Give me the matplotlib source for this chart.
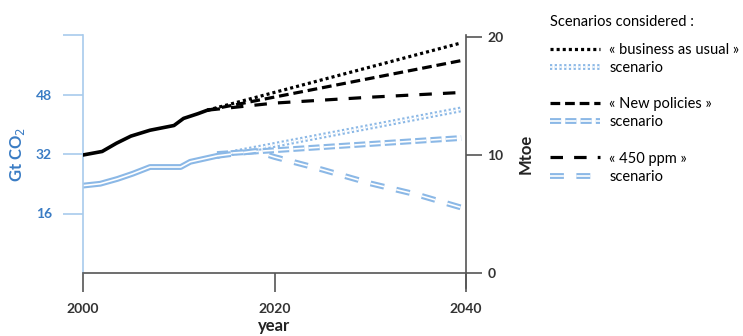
import numpy as np
import matplotlib
matplotlib.use('Agg')
import matplotlib.pyplot as plt
import matplotlib.patheffects as pe

plt.rcParams['font.family'] = ['Lato', 'DejaVu Sans']
plt.rcParams['lines.scale_dashes'] = False

# --- data ---
# historical energy (black, right axis, Mtoe)
hist_black_years = [2000, 2002, 2003.5, 2005, 2007, 2009.5, 2010.5, 2012, 2013]
hist_black = [10.0, 10.3, 11.0, 11.6, 12.1, 12.5, 13.1, 13.5, 13.8]
# historical CO2 (blue, left axis, Gt CO2)
hist_blue_years = [2000, 2001.8, 2003.6, 2005.2, 2007, 2010.2, 2011.2, 2012.6, 2014]
hist_blue = [23.5, 24.0, 25.3, 26.7, 28.5, 28.5, 29.9, 30.7, 31.5]

# projections, black (Mtoe)
bau_black_years = [2013, 2039.5]
bau_black = [13.8, 19.5]
np_black_years = [2013, 2039.5]
np_black = [13.8, 18.0]
p450_black_years = [2013, 2020, 2030, 2039.5]
p450_black = [13.8, 14.4, 14.9, 15.3]

# projections, blue (Gt CO2)
bau_blue_years = [2014, 2039.5]
bau_blue = [31.5, 44.0]
np_blue_years = [2014, 2039.5]
np_blue = [32.0, 36.3]
p450_blue_years = [2014, 2018, 2020, 2025, 2030, 2035, 2039.5]
p450_blue = [31.5, 32.8, 31.2, 27.8, 24.1, 21.0, 17.6]

BLUE_TXT = '#3a7cc4'
BLUE_LN = '#8bb8e6'
BLUE_AX = '#a8cbec'
GREY = '#555555'

fig = plt.figure(figsize=(7.43, 3.36), dpi=100)
ax = fig.add_axes([83/743, 1 - 273/336, (466 - 83)/743, (273 - 35)/336])
ax2 = ax.twinx()

def double(w=4.2):
    return [pe.Stroke(linewidth=w, foreground=BLUE_LN), pe.Normal()]

# blue (CO2) lines, drawn as double lines
ax.plot(hist_blue_years, hist_blue, color='white', lw=1.2, path_effects=double())
l_bau_b, = ax.plot(bau_blue_years, bau_blue, color='white', lw=1.2, dashes=(1.6, 1.8),
                   path_effects=double(), label='scenario')
l_np_b, = ax.plot(np_blue_years, np_blue, color='white', lw=1.2, dashes=(8, 3),
                  path_effects=double(), label='scenario')
l_450_b, = ax.plot(p450_blue_years, p450_blue, color='white', lw=1.2, dashes=(10, 9),
                   path_effects=double(), label='scenario')

# black (energy) lines
ax2.plot(hist_black_years, hist_black, color='black', lw=2.6, solid_capstyle='round')
l_bau_k, = ax2.plot(bau_black_years, bau_black, color='black', lw=2.3, dashes=(2.2, 2.2),
                    label='« business as usual »')
l_np_k, = ax2.plot(np_black_years, np_black, color='black', lw=2.3, dashes=(7, 3.5),
                   label='« New policies »')
l_450_k, = ax2.plot(p450_black_years, p450_black, color='black', lw=2.3, dashes=(9, 8),
                    label='« 450 ppm »')

# axes styling
ax.set_xlim(2000, 2040)
ax.set_ylim(0, 64)
ax2.set_ylim(0, 20.17)

ax.set_xticks([2000, 2020, 2040])
ax.set_yticks([16, 32, 48, 64])
ax.set_yticklabels(['16', '32', '48', ''])
ax2.set_yticks([0, 10, 20])

ax.spines['top'].set_visible(False)
ax2.spines['top'].set_visible(False)
ax.spines['right'].set_visible(False)
ax2.spines['left'].set_visible(False)
ax2.spines['bottom'].set_visible(False)
ax.spines['left'].set_color(BLUE_AX)
ax.spines['left'].set_linewidth(1.2)
ax.spines['bottom'].set_color(GREY)
ax.spines['bottom'].set_linewidth(1.2)
ax2.spines['right'].set_color(GREY)
ax2.spines['right'].set_linewidth(1.2)
ax2.spines['right'].set_bounds(-1.3, 20.17)

ax.tick_params(axis='y', direction='out', length=14.4, width=1.2, color=BLUE_AX,
               labelcolor=BLUE_TXT, labelsize=10, pad=8)
ax.tick_params(axis='x', direction='out', length=13.7, width=1.2, color=GREY,
               labelcolor='#333333', labelsize=10, pad=8)
ax2.tick_params(axis='y', direction='out', length=11.5, width=1.2, color=GREY,
                labelcolor='#333333', labelsize=10, pad=4)
for lab in ax.get_xticklabels() + ax.get_yticklabels() + ax2.get_yticklabels():
    lab.set_fontweight('bold')

ax.set_xlabel('year', fontsize=12, fontweight='bold', color='#222222', labelpad=2)
ax.set_ylabel(r'Gt CO$_2$', fontsize=12, fontweight='bold', color=BLUE_TXT, labelpad=6)
ax2.set_ylabel('Mtoe', fontsize=12, fontweight='bold', color='#222222', labelpad=10)

# legend block on the right
blank = plt.Line2D([], [], alpha=0)
handles = [l_bau_k, l_bau_b, blank, l_np_k, l_np_b, blank, l_450_k, l_450_b]
labels = ['« business as usual »', 'scenario', '', '« New policies »', 'scenario', '',
          '« 450 ppm »', 'scenario']
leg = fig.legend(handles, labels, loc='upper left', bbox_to_anchor=(540/743, 1 - 5/336),
                 frameon=False, fontsize=10.5, title='Scenarios considered :',
                 title_fontsize=10.5, alignment='left', handlelength=3.4,
                 handletextpad=0.65, labelspacing=0.28, borderpad=0.2)
leg._legend_box.sep = 10

fig.savefig('out.png', dpi=100)
